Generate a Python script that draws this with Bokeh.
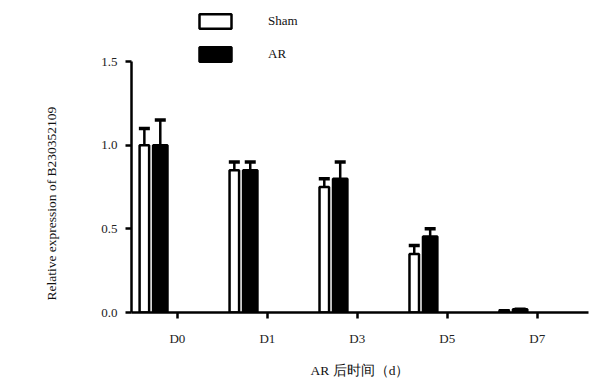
from bokeh.plotting import figure
from bokeh.models import (ColumnDataSource, Range1d, FixedTicker, Whisker, TeeHead,
                          Legend, LegendItem, Title)
from bokeh.embed import file_html
from bokeh.resources import INLINE

categories = ["D0", "D1", "D3", "D5", "D7"]
sham_mean = [1.00, 0.85, 0.75, 0.35, 0.01]
sham_err = [0.10, 0.05, 0.05, 0.05, 0.0]
ar_mean = [1.00, 0.85, 0.80, 0.455, 0.02]
ar_err = [0.15, 0.05, 0.10, 0.045, 0.0]
y_ticks = [0.0, 0.5, 1.0, 1.5]

idx = list(range(len(categories)))
sham_off, ar_off = -0.367, -0.19

sham_src = ColumnDataSource(dict(
    x=[i + sham_off for i in idx], top=sham_mean,
    upper=[m + e for m, e in zip(sham_mean, sham_err)]))
ar_src = ColumnDataSource(dict(
    x=[i + ar_off for i in idx], top=ar_mean,
    upper=[m + e for m, e in zip(ar_mean, ar_err)]))

p = figure(width=590, height=381, output_backend="svg", toolbar_location=None,
           x_range=Range1d(-0.51, 4.57), y_range=Range1d(0, 1.835),
           min_border_left=131, min_border_right=2, min_border_top=5,
           min_border_bottom=69, background_fill_color="white",
           border_fill_color="white", outline_line_color=None)
p.xgrid.visible = False
p.ygrid.visible = False

r_sham = p.vbar(x="x", top="top", width=0.106, bottom=0, source=sham_src,
                fill_color="white", line_color="black", line_width=2.5)
r_ar = p.vbar(x="x", top="top", width=0.16, bottom=0, source=ar_src,
              fill_color="black", line_color="black", line_width=2.5)

for src in (sham_src, ar_src):
    w = Whisker(base="x", upper="upper", lower="top", source=src,
                dimension="height", line_color="black", line_width=2.5,
                upper_head=TeeHead(size=11, line_width=3.5, line_color="black"),
                lower_head=None)
    p.add_layout(w)

serif = "Liberation Serif"
for ax in (p.xaxis[0], p.yaxis[0]):
    ax.axis_line_width = 2.5
    ax.axis_line_color = "black"
    ax.major_tick_line_width = 2.5
    ax.major_tick_line_color = "black"
    ax.major_tick_out = 6
    ax.major_tick_in = 0
    ax.minor_tick_line_color = None
    ax.major_label_text_font = serif
    ax.major_label_text_font_size = "13px"
    ax.major_label_text_color = "#222222"
    ax.axis_label_text_font = serif
    ax.axis_label_text_font_size = "13.5px"
    ax.axis_label_text_font_style = "normal"
    ax.axis_label_text_color = "#111111"

p.xaxis.ticker = FixedTicker(ticks=idx)
p.xaxis.major_label_overrides = {i: c for i, c in zip(idx, categories)}
p.xaxis.major_label_standoff = 12
p.xaxis.axis_label = "AR 后时间（d）"
p.xaxis.axis_label_standoff = 14

yax = p.yaxis[0]
yax.bounds = (y_ticks[0], y_ticks[-1])
yax.ticker = FixedTicker(ticks=y_ticks)
yax.major_label_overrides = {t: f"{t:.1f}" for t in y_ticks}
yax.major_label_standoff = 8

ytitle = Title(text="Relative expression of B230352109", align="left", offset=12,
               standoff=80, text_font=serif, text_font_size="13.5px",
               text_font_style="normal", text_color="#111111")
p.add_layout(ytitle, "left")

legend = Legend(items=[LegendItem(label="Sham", renderers=[r_sham]),
                       LegendItem(label="AR", renderers=[r_ar])],
                location=(64, 249), orientation="vertical",
                glyph_width=40, glyph_height=18, label_height=18,
                spacing=15, label_standoff=33, padding=0, margin=0,
                border_line_color=None, background_fill_alpha=0,
                label_text_font=serif, label_text_font_size="13px",
                label_text_color="#111111")
p.add_layout(legend, "center")

open("out.html", "w").write(file_html(p, INLINE))
